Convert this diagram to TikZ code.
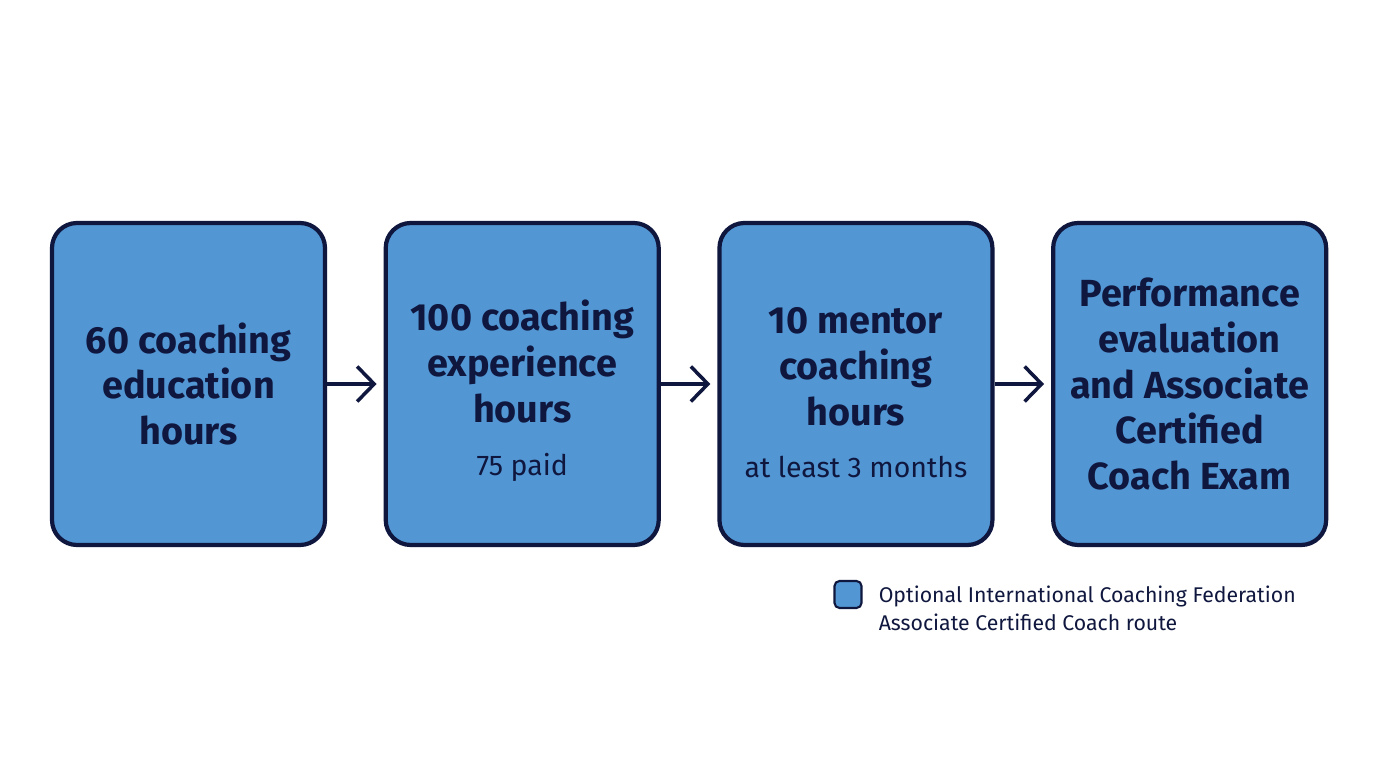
\documentclass[tikz,border=0pt]{standalone}
\usepackage{fontspec}
\setmainfont{Fira Sans}
\usepackage{tikz}
\usetikzlibrary{arrows.meta,positioning}
\definecolor{cnavy}{RGB}{15,23,62}
\definecolor{cbox}{RGB}{82,150,212}
\newcommand{\notefont}{\fontsize{16.2}{19}\selectfont\mdseries}

\begin{document}
\begin{tikzpicture}[
  node distance=11.3mm,
  stage/.style={draw=cnavy, line width=2.4pt, rounded corners=5mm, fill=cbox,
                minimum width=54.6mm, minimum height=64.4mm, align=center,
                text=cnavy, font=\fontsize{21.5}{26}\selectfont\bfseries},
  flow/.style={-{Straight Barb[length=3.4mm, width=7mm, line width=2pt]},
               line width=2pt, cnavy, shorten >=1.4mm}
]
\useasboundingbox[fill=white] (0,0) rectangle (27.52,15.36);

\node[stage] (edu) at (3.77,7.68) {60 coaching\\education\\hours};
\node[stage, right=of edu] (exp)
  {\rule{0pt}{8.8mm}100 coaching\\experience\\hours\\[1.4mm]{\notefont 75 paid}};
\node[stage, right=of exp] (mentor)
  {\rule{0pt}{8.8mm}10 mentor\\coaching\\hours\\[1.4mm]{\notefont at least 3 months}};
\node[stage, right=of mentor] (exam)
  {Performance\\evaluation\\and Associate\\Certified\\Coach Exam};

\draw[flow] (edu)--(exp);
\draw[flow] (exp)--(mentor);
\draw[flow] (mentor)--(exam);

% legend
\node[draw=cnavy, line width=1.2pt, fill=cbox, rounded corners=1mm,
      minimum size=5.4mm, inner sep=0pt] (key) at (16.96,3.47) {};
\node[right=2mm of key.north east, anchor=north west, align=left,
      text=cnavy, font=\fontsize{12.1}{16}\selectfont] (keytext)
  {Optional International Coaching Federation\\Associate Certified Coach route};
\end{tikzpicture}
\end{document}
